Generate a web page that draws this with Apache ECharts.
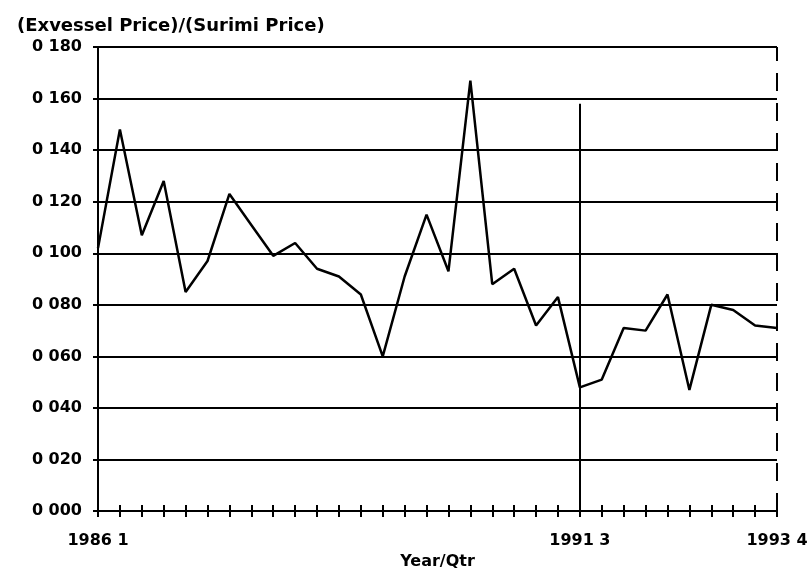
<!DOCTYPE html>
<html>
<head>
<meta charset="utf-8">
<script src="https://cdn.jsdelivr.net/npm/echarts@6/dist/echarts.min.js"></script>
<style>
  html, body { margin: 0; padding: 0; background: #ffffff; }
  #chart { width: 812px; height: 575px; }
</style>
</head>
<body>
<div id="chart"></div>
<script>
// Quarters, 1986 Q1 through 1993 Q4
const quarters = [
  '1986 1', '1986 2', '1986 3', '1986 4',
  '1987 1', '1987 2', '1987 3', '1987 4',
  '1988 1', '1988 2', '1988 3', '1988 4',
  '1989 1', '1989 2', '1989 3', '1989 4',
  '1990 1', '1990 2', '1990 3', '1990 4',
  '1991 1', '1991 2', '1991 3', '1991 4',
  '1992 1', '1992 2', '1992 3', '1992 4',
  '1993 1', '1993 2', '1993 3', '1993 4'
];

// Ratio of exvessel price to surimi price
const priceRatio = [
  0.102, 0.148, 0.107, 0.128,
  0.085, 0.097, 0.123, 0.111,
  0.099, 0.104, 0.094, 0.091,
  0.084, 0.060, 0.091, 0.115,
  0.093, 0.167, 0.088, 0.094,
  0.072, 0.083, 0.048, 0.051,
  0.071, 0.070, 0.084, 0.047,
  0.080, 0.078, 0.072, 0.071
];

// Labelled quarters on the horizontal axis
const xTickLabels = ['1986 1', '1991 3', '1993 4'];

// Vertical axis tick labels, 0.000 .. 0.180
const yTickLabels = ['0 000', '0 020', '0 040', '0 060', '0 080', '0 100', '0 120', '0 140', '0 160', '0 180'];

// Break marker at 1991 Q3 and the closing quarter
const breakQuarter = '1991 3';
const breakTop = 0.158;
const lastQuarter = '1993 4';
const yMax = 0.18;

const FONT = 'DejaVu Sans';
const INK = '#000000';

const chart = echarts.init(document.getElementById('chart'), null, { renderer: 'canvas' });

chart.setOption({
  backgroundColor: '#ffffff',
  animation: false,
  title: {
    text: '(Exvessel Price)/(Surimi Price)',
    left: 12,
    top: 12,
    textStyle: { fontFamily: FONT, fontWeight: 'bold', fontSize: 18, color: INK }
  },
  grid: { left: 98, right: 35, top: 47, bottom: 59, containLabel: false },
  xAxis: [
    {
      // main time axis: line, labels and title
      type: 'category',
      data: quarters,
      boundaryGap: false,
      position: 'bottom',
      offset: 0,
      name: 'Year/Qtr',
      nameLocation: 'middle',
      nameGap: 36,
      nameTextStyle: { fontFamily: FONT, fontWeight: 'bold', fontSize: 16, color: INK },
      axisLine: { show: true, onZero: false, lineStyle: { color: INK, width: 2 } },
      axisTick: { show: false },
      splitLine: { show: false },
      axisLabel: {
        show: true,
        interval: 0,
        margin: 22,
        fontFamily: FONT,
        fontWeight: 'bold',
        fontSize: 16,
        color: INK,
        formatter: function (v) { return xTickLabels.indexOf(v) >= 0 ? v : ''; }
      }
    },
    {
      // quarter ticks crossing the time axis
      type: 'category',
      data: quarters,
      boundaryGap: false,
      position: 'bottom',
      offset: -6,
      axisLine: { show: false },
      axisTick: { show: true, interval: 0, inside: false, length: 12, lineStyle: { color: INK, width: 2 } },
      axisLabel: { show: false },
      splitLine: { show: false }
    }
  ],
  yAxis: {
    type: 'value',
    min: 0,
    max: yMax,
    interval: 0.02,
    axisLine: { show: true, lineStyle: { color: INK, width: 2 } },
    axisTick: { show: true, inside: false, length: 5, lineStyle: { color: INK, width: 2 } },
    splitLine: { show: true, lineStyle: { color: INK, width: 2 } },
    axisLabel: {
      margin: 16,
      fontFamily: FONT,
      fontWeight: 'bold',
      fontSize: 16,
      color: INK,
      formatter: function (v) { return yTickLabels[Math.round(v / 0.02)]; }
    }
  },
  series: [
    {
      type: 'line',
      xAxisIndex: 0,
      data: priceRatio,
      showSymbol: false,
      symbol: 'none',
      lineStyle: { color: INK, width: 2.5 },
      z: 5,
      markLine: {
        silent: true,
        symbol: 'none',
        label: { show: false },
        data: [
          [
            { coord: [breakQuarter, 0], lineStyle: { color: INK, width: 2, type: 'solid' } },
            { coord: [breakQuarter, breakTop] }
          ],
          [
            { coord: [lastQuarter, 0], lineStyle: { color: INK, width: 2, type: [18, 12] } },
            { coord: [lastQuarter, yMax] }
          ]
        ]
      }
    }
  ]
});
</script>
</body>
</html>
